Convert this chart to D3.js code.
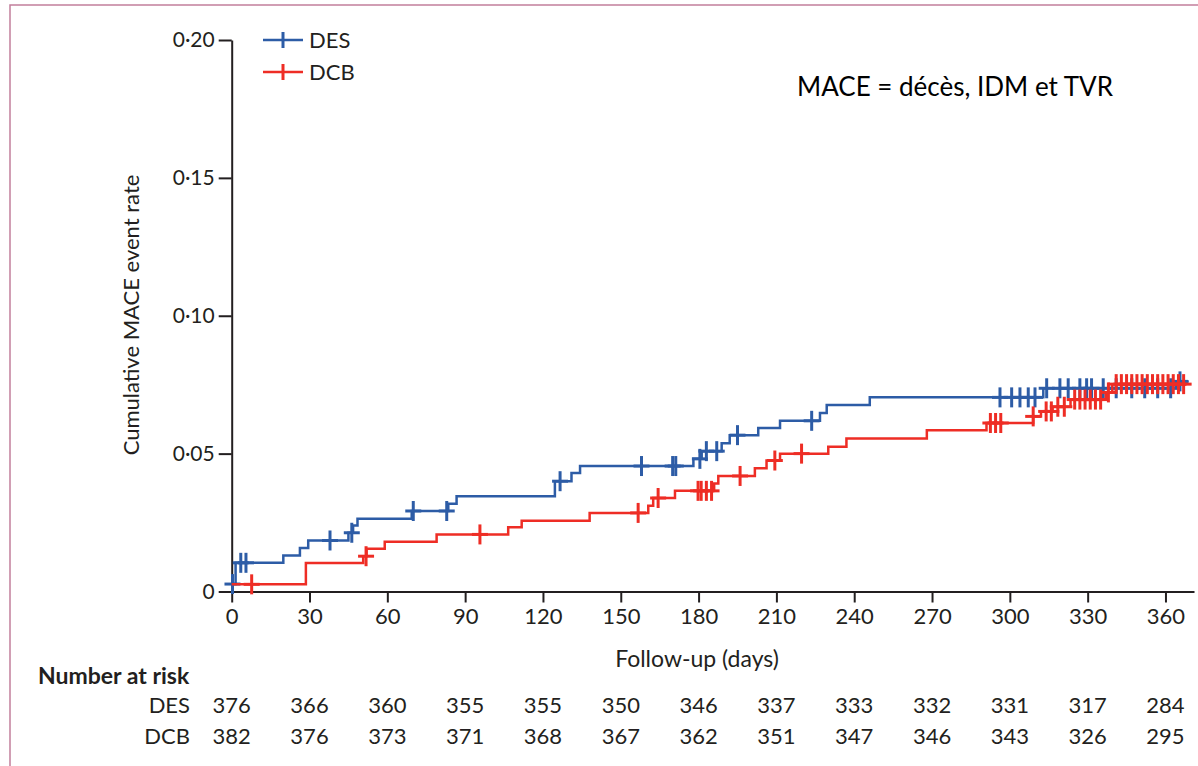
<!DOCTYPE html>
<html>
<head>
<meta charset="utf-8">
<script src="https://cdn.jsdelivr.net/npm/d3@7"></script>
<style>
  body { margin: 0; background: #fff; }
  text { font-family: Lato, "Open Sans", sans-serif; fill: #231f20; }
</style>
</head>
<body>
<script>
// Data
const desDays  = [0, 1.5, 19.9, 26.3, 29.5, 45, 46.8, 48.5, 69.4, 83.5, 86.7, 124.6, 131, 134.3, 178, 181.2, 188.9, 192, 203, 211.4, 226.8, 229.4, 246, 312.9, 364, 369];
const desRates = [0.0027, 0.0104, 0.0131, 0.0158, 0.0185, 0.0213, 0.0239, 0.0264, 0.0292, 0.0318, 0.0345, 0.0400, 0.0430, 0.0455, 0.0481, 0.0509, 0.0538, 0.0567, 0.0593, 0.0619, 0.0647, 0.0676, 0.0704, 0.0737, 0.0762, 0.0762];
const desCensored = [0.3, 3.5, 5.5, 37.9, 46.3, 70, 82.9, 126.6, 158, 170, 171.2, 180.5, 183, 187, 195, 223.6, 296.2, 300.7, 303.9, 307.1, 309.7, 314.2, 319.3, 322.5, 327, 329.6, 331.5, 336, 341, 347, 352, 357, 362, 365.6];

const dcbDays  = [0, 28.6, 50.7, 52, 59, 79, 106.6, 111.8, 138, 160.6, 162.5, 170.9, 186, 187.6, 201.7, 206.2, 211.4, 230, 237, 268, 291, 309, 312, 316.5, 323.4, 337, 339.5, 368];
const dcbRates = [0.0026, 0.0103, 0.0128, 0.0155, 0.0180, 0.0207, 0.0233, 0.0257, 0.0285, 0.0311, 0.0339, 0.0365, 0.0392, 0.0419, 0.0447, 0.0475, 0.0500, 0.0525, 0.0555, 0.0585, 0.0611, 0.0635, 0.0653, 0.0670, 0.0696, 0.0722, 0.0752, 0.0752];
const dcbCensored = [7.7, 51.8, 95.7, 156.7, 164.4, 179.8, 181, 183, 185, 196, 209.4, 219.7, 292.5, 294.5, 296.5, 309, 314, 316, 318.5, 321, 325, 327, 329, 331, 333, 335, 338, 341, 343, 345, 347, 349, 351, 353, 355, 357, 359, 361, 363, 365, 367];

const xTicks = [0, 30, 60, 90, 120, 150, 180, 210, 240, 270, 300, 330, 360];
const yTicks = [0, 0.05, 0.10, 0.15, 0.20];
const yTickLabels = ["0", "0·05", "0·10", "0·15", "0·20"];
const riskDES = [376, 366, 360, 355, 355, 350, 346, 337, 333, 332, 331, 317, 284];
const riskDCB = [382, 376, 373, 371, 368, 367, 362, 351, 347, 346, 343, 326, 295];

const blue = "#2d5ca6";
const red = "#ee2d25";

// SVG
const svg = d3.select("body").append("svg")
    .attr("width", 1198)
    .attr("height", 766);

// Frame (top and left edges of the scanned page)
svg.append("path")
    .attr("d", "M10,766 V5 H1198")
    .attr("fill", "none")
    .attr("stroke", "#c27f9c")
    .attr("stroke-width", 1.5);

// Scales
const x = d3.scaleLinear().domain([0, 371]).range([231.7, 1194]);
const y = d3.scaleLinear().domain([0, 0.2]).range([591.5, 40]);

// Axes
const xAxis = svg.append("g")
    .attr("transform", "translate(0," + y(0) + ")")
    .call(d3.axisBottom(x).tickValues(xTicks).tickSize(11).tickSizeOuter(0).tickPadding(6));

const yAxis = svg.append("g")
    .attr("transform", "translate(" + x(0) + ",0)")
    .call(d3.axisLeft(y).tickValues(yTicks).tickSize(13).tickSizeOuter(0).tickPadding(4)
        .tickFormat((d, i) => yTickLabels[i]));

svg.selectAll(".domain, .tick line")
    .attr("stroke", "#231f20")
    .attr("stroke-width", 2);
xAxis.selectAll("text").attr("font-size", "22px").attr("fill", "#231f20");
yAxis.selectAll("text").attr("font-size", "21px").attr("fill", "#231f20");

// Axis titles
svg.append("text")
    .attr("transform", "translate(139,315) rotate(-90)")
    .attr("text-anchor", "middle")
    .attr("font-size", "22px")
    .text("Cumulative MACE event rate");

svg.append("text")
    .attr("x", 697)
    .attr("y", 667)
    .attr("text-anchor", "middle")
    .attr("font-size", "23px")
    .text("Follow-up (days)");

// Step curves
const line = d3.line()
    .x(d => x(d[0]))
    .y(d => y(d[1]))
    .curve(d3.curveStepAfter);

function rateAt(days, rates, t) {
    let r = rates[0];
    days.forEach((d, i) => { if (d <= t) r = rates[i]; });
    return r;
}

function drawGroup(days, rates, censored, color) {
    const g = svg.append("g");
    g.append("path")
        .datum(days.map((d, i) => [d, rates[i]]))
        .attr("fill", "none")
        .attr("stroke", color)
        .attr("stroke-width", 2.5)
        .attr("d", line);

    const marks = g.selectAll(".cens")
        .data(censored)
        .enter().append("g")
        .attr("class", "cens")
        .attr("transform", d => "translate(" + x(d) + "," + y(rateAt(days, rates, d)) + ")");
    marks.append("line")
        .attr("y1", -10).attr("y2", 10)
        .attr("stroke", color).attr("stroke-width", 3);
    marks.append("line")
        .attr("x1", -8).attr("x2", 8)
        .attr("stroke", color).attr("stroke-width", 3);
}

drawGroup(desDays, desRates, desCensored, blue);
drawGroup(dcbDays, dcbRates, dcbCensored, red);

// Legend
const legend = svg.selectAll(".legend")
    .data([["DES", blue], ["DCB", red]])
    .enter().append("g")
    .attr("class", "legend")
    .attr("transform", (d, i) => "translate(263," + (40 + i * 32) + ")");
legend.append("line")
    .attr("x1", 0).attr("x2", 40)
    .attr("stroke", d => d[1]).attr("stroke-width", 2.5);
legend.append("line")
    .attr("x1", 20).attr("x2", 20).attr("y1", -8).attr("y2", 8)
    .attr("stroke", d => d[1]).attr("stroke-width", 3);
legend.append("text")
    .attr("x", 46)
    .attr("y", 8)
    .attr("font-size", "22px")
    .text(d => d[0]);

// Note
svg.append("text")
    .attr("x", 797)
    .attr("y", 96)
    .attr("font-size", "26px")
    .style("fill", "#000")
    .text("MACE = décès, IDM et TVR");

// Number at risk table
svg.append("text")
    .attr("x", 38)
    .attr("y", 684)
    .attr("font-size", "23px")
    .attr("font-weight", "bold")
    .text("Number at risk");

const rows = [["DES", riskDES, 713], ["DCB", riskDCB, 744]];
rows.forEach(r => {
    svg.append("text")
        .attr("x", 190)
        .attr("y", r[2])
        .attr("text-anchor", "end")
        .attr("font-size", "22px")
        .text(r[0]);
    svg.selectAll(".risk-" + r[0])
        .data(r[1])
        .enter().append("text")
        .attr("class", "risk-" + r[0])
        .attr("x", (d, i) => x(xTicks[i]))
        .attr("y", r[2])
        .attr("text-anchor", "middle")
        .attr("font-size", "22px")
        .text(d => d);
});
</script>
</body>
</html>
